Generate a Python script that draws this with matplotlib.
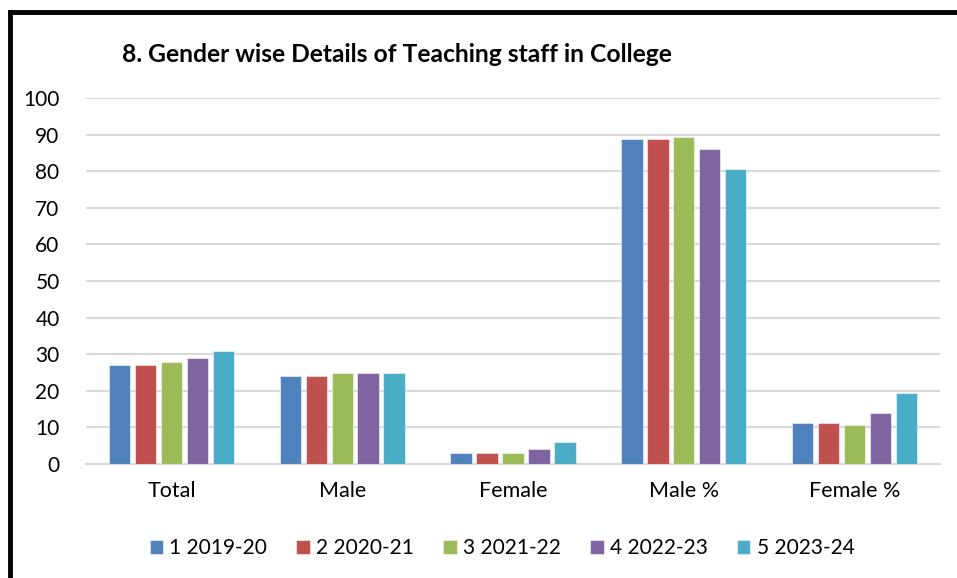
import matplotlib.pyplot as plt
import numpy as np
from matplotlib.lines import Line2D

plt.rcParams['font.family'] = ['Lato', 'DejaVu Sans']

categories = ["Total", "Male", "Female", "Male %", "Female %"]
series_names = ["1 2019-20", "2 2020-21", "3 2021-22", "4 2022-23", "5 2023-24"]
y2019 = [27, 24, 3, 88.9, 11.1]
y2020 = [27, 24, 3, 88.9, 11.1]
y2021 = [28, 25, 3, 89.3, 10.7]
y2022 = [29, 25, 4, 86.2, 13.8]
y2023 = [31, 25, 6, 80.6, 19.4]
colors = ["#4F81BD", "#C0504D", "#9BBB59", "#8064A2", "#4BACC6"]

series = [y2019, y2020, y2021, y2022, y2023]

fig = plt.figure(figsize=(9.57, 5.78), dpi=100)
ax = fig.add_axes([86/957, 1 - 464/578, (940-86)/957, (464-98)/578])

x = np.arange(len(categories))
step = 0.152
width = 0.125
for i, (vals, name, c) in enumerate(zip(series, series_names, colors)):
    ax.bar(x + (i - 2) * step, vals, width, color=c, label=name,
           edgecolor=(1, 1, 1, 0.5), linewidth=0.8, zorder=3)

ax.set_ylim(0, 100)
ax.set_xlim(-0.5, 4.5)
ax.set_yticks(range(0, 101, 10))
ax.yaxis.grid(True, color="#D9D9D9", linewidth=1.5, zorder=0)
for s in ["top", "right", "left"]:
    ax.spines[s].set_visible(False)
ax.spines["bottom"].set_color("#D9D9D9")
ax.spines["bottom"].set_linewidth(1.5)
ax.tick_params(axis="both", length=0, labelsize=15, colors="black")
ax.tick_params(axis="y", pad=19)
ax.tick_params(axis="x", pad=12)
ax.set_xticks(x)
ax.set_xticklabels(categories, fontsize=15.5)

fig.text(122/957, 1 - 55/578, "8. Gender wise Details of Teaching staff in College",
         fontsize=17.7, fontweight="bold", va="center", ha="left")

leg = fig.legend(loc="center", bbox_to_anchor=(502/957, 1 - 548/578), ncol=5,
                 frameon=False, fontsize=15, handlelength=0.65, handleheight=0.65,
                 handletextpad=0.3, columnspacing=1.4)

# black frame around the top and left
fig.add_artist(Line2D([10/957, 10/957], [0, 1 - 12/578], color="black", linewidth=3.5,
                      transform=fig.transFigure))
fig.add_artist(Line2D([10/957, 1], [1 - 12/578, 1 - 12/578], color="black", linewidth=3.5,
                      transform=fig.transFigure))

fig.savefig("out.png", dpi=100)
